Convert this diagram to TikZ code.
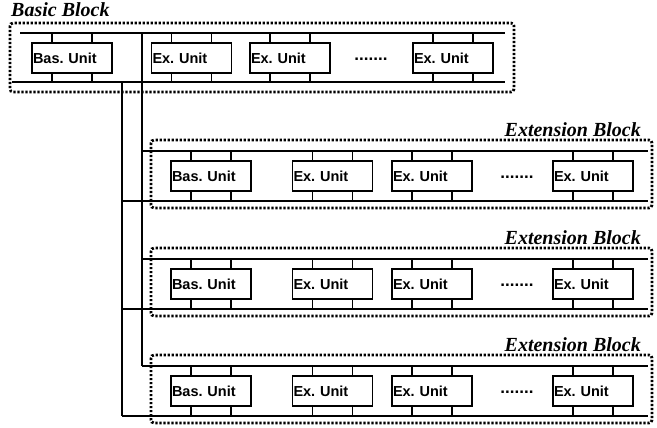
\documentclass[tikz,border=0pt]{standalone}
\usepackage{fontspec}
\setmainfont{Liberation Serif}
\setsansfont{Liberation Sans}
\frenchspacing
\begin{document}
\begin{tikzpicture}[x=1pt,y=-1pt,
  bus/.style={line width=1.7pt},
  blockframe/.style={line width=2.8pt, dash pattern=on 2.2pt off 1.8pt, rounded corners=3pt},
  unitbox/.style={draw, line width=1.7pt, minimum width=80pt, minimum height=30pt, text width=78pt, inner sep=1pt, align=left, font=\sffamily\bfseries\fontsize{14.5}{15}\selectfont},
  dotsnode/.style={font=\sffamily\bfseries\fontsize{17}{18}\selectfont, inner sep=0pt},
  blocktitle/.style={font=\rmfamily\bfseries\itshape\fontsize{20}{21}\selectfont, inner sep=0pt}]
\useasboundingbox (0,0) rectangle (657,428);

% ---------- Basic block ----------
\node[blocktitle, anchor=base west] (tbasic) at (11,17) {Basic Block};
\draw[blockframe] (10,23) rectangle (514,92);
\coordinate (bt0) at (20,33);  \coordinate (bt1) at (505,33);
\coordinate (bb0) at (12,82);  \coordinate (bb1) at (505,82);
\draw[bus] (bt0) -- (bt1);
\draw[bus] (bb0) -- (bb1);
\node[unitbox] (b1) at (72,58) {Bas. Unit};
\node[unitbox] (b2) at (191.5,58) {Ex. Unit};
\node[unitbox] (b3) at (290,58) {Ex. Unit};
\node[dotsnode] (bd) at (371,59) {.......};
\node[unitbox] (b4) at (453,58) {Ex. Unit};
\foreach \u in {b1,b2,b3,b4}{
  \draw[bus] ([xshift=-20pt]\u.north) -- ([xshift=-20pt]\u.north |- bt0);
  \draw[bus] ([xshift=20pt]\u.north) -- ([xshift=20pt]\u.north |- bt0);
  \draw[bus] ([xshift=-20pt]\u.south) -- ([xshift=-20pt]\u.south |- bb0);
  \draw[bus] ([xshift=20pt]\u.south) -- ([xshift=20pt]\u.south |- bb0);
}

% ---------- Extension blocks ----------
\foreach \k/\dy in {1/0,2/108,3/215}{
  \node[blocktitle, anchor=base east] (tx\k) at (641,136+\dy) {Extension Block};
  \draw[blockframe] (151,140+\dy) rectangle (652,208+\dy);
  \coordinate (xt\k a) at (142,151+\dy); \coordinate (xt\k b) at (648,151+\dy);
  \coordinate (xb\k a) at (122,201+\dy); \coordinate (xb\k b) at (648,201+\dy);
  \draw[bus] (xt\k a) -- (xt\k b);
  \draw[bus] (xb\k a) -- (xb\k b);
  \node[unitbox] (x\k u1) at (211,176+\dy) {Bas. Unit};
  \node[unitbox] (x\k u2) at (332.5,176+\dy) {Ex. Unit};
  \node[unitbox] (x\k u3) at (432,176+\dy) {Ex. Unit};
  \node[dotsnode] (x\k d) at (517,177+\dy) {.......};
  \node[unitbox] (x\k u4) at (593,176+\dy) {Ex. Unit};
  \foreach \u in {u1,u2,u3,u4}{
    \draw[bus] ([xshift=-20pt]x\k\u.north) -- ([xshift=-20pt]x\k\u.north |- xt\k a);
    \draw[bus] ([xshift=20pt]x\k\u.north) -- ([xshift=20pt]x\k\u.north |- xt\k a);
    \draw[bus] ([xshift=-20pt]x\k\u.south) -- ([xshift=-20pt]x\k\u.south |- xb\k a);
    \draw[bus] ([xshift=20pt]x\k\u.south) -- ([xshift=20pt]x\k\u.south |- xb\k a);
  }
}

% ---------- vertical trunk lines ----------
\draw[bus] (bt0 -| xt1a) -- (xt3a);
\draw[bus] (bb0 -| xb1a) -- (xb3a);
\end{tikzpicture}
\end{document}
